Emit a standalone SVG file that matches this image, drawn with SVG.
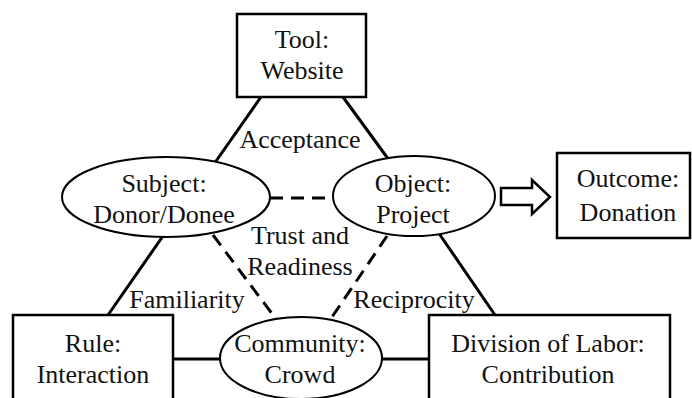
<svg xmlns="http://www.w3.org/2000/svg" width="692" height="398" viewBox="0 0 692 398">
<style>
.t{font-family:'Liberation Serif','Times New Roman',Times,serif;font-size:26px;fill:#111;text-anchor:middle}
.box{fill:#fff;stroke:#000;stroke-width:2.5}
.ell{fill:#fff;stroke:#000;stroke-width:2}
.ln{stroke:#000;stroke-width:3;fill:none}
.dash{stroke:#000;stroke-width:3;fill:none;stroke-dasharray:13 8}
</style>
<rect width="692" height="398" fill="#fff"/>
<g id="connectors">
<line class="ln" x1="261" y1="97" x2="214" y2="164"/>
<line class="ln" x1="343" y1="97" x2="389" y2="160"/>
<line class="ln" x1="163" y1="236" x2="108" y2="315"/>
<line class="ln" x1="438" y1="232" x2="495" y2="315"/>
<line class="ln" x1="173" y1="359" x2="221" y2="359"/>
<line class="ln" x1="381" y1="359" x2="429" y2="359"/>
<line class="dash" x1="270" y1="198" x2="334" y2="198"/>
<line class="dash" x1="213" y1="235" x2="276" y2="319"/>
<line class="dash" x1="387" y1="236" x2="332" y2="317"/>
<path class="box" d="M501,188 L532,188 L532,180 L550,197 L532,214 L532,205 L501,205 Z" stroke-width="2"/>
</g>
<g id="tool">
<rect class="box" x="237" y="14" width="129" height="83"/>
<text class="t" x="302" y="48">Tool:</text>
<text class="t" x="302" y="79">Website</text>
</g>
<g id="subject">
<ellipse class="ell" cx="166" cy="197" rx="104" ry="40"/>
<text class="t" x="164" y="192">Subject:</text>
<text class="t" x="164" y="223">Donor/Donee</text>
</g>
<g id="object">
<ellipse class="ell" cx="414" cy="196" rx="81" ry="40"/>
<text class="t" x="413" y="192">Object:</text>
<text class="t" x="413" y="223">Project</text>
</g>
<g id="outcome">
<rect class="box" x="557" y="153" width="133" height="85"/>
<text class="t" x="628" y="187">Outcome:</text>
<text class="t" x="628" y="221">Donation</text>
</g>
<g id="rule">
<rect class="box" x="13" y="315" width="160" height="95"/>
<text class="t" x="93" y="352">Rule:</text>
<text class="t" x="93" y="383">Interaction</text>
</g>
<g id="community">
<ellipse class="ell" cx="301" cy="358" rx="81" ry="41"/>
<text class="t" x="300" y="352">Community:</text>
<text class="t" x="300" y="383">Crowd</text>
</g>
<g id="division">
<rect class="box" x="429" y="315" width="241" height="95"/>
<text class="t" x="548" y="352">Division of Labor:</text>
<text class="t" x="548" y="383">Contribution</text>
</g>
<g id="labels">
<text class="t" x="300" y="148">Acceptance</text>
<text class="t" x="300" y="244">Trust and</text>
<text class="t" x="300" y="275">Readiness</text>
<text class="t" x="187" y="308">Familiarity</text>
<text class="t" x="414" y="308">Reciprocity</text>
</g>
</svg>
